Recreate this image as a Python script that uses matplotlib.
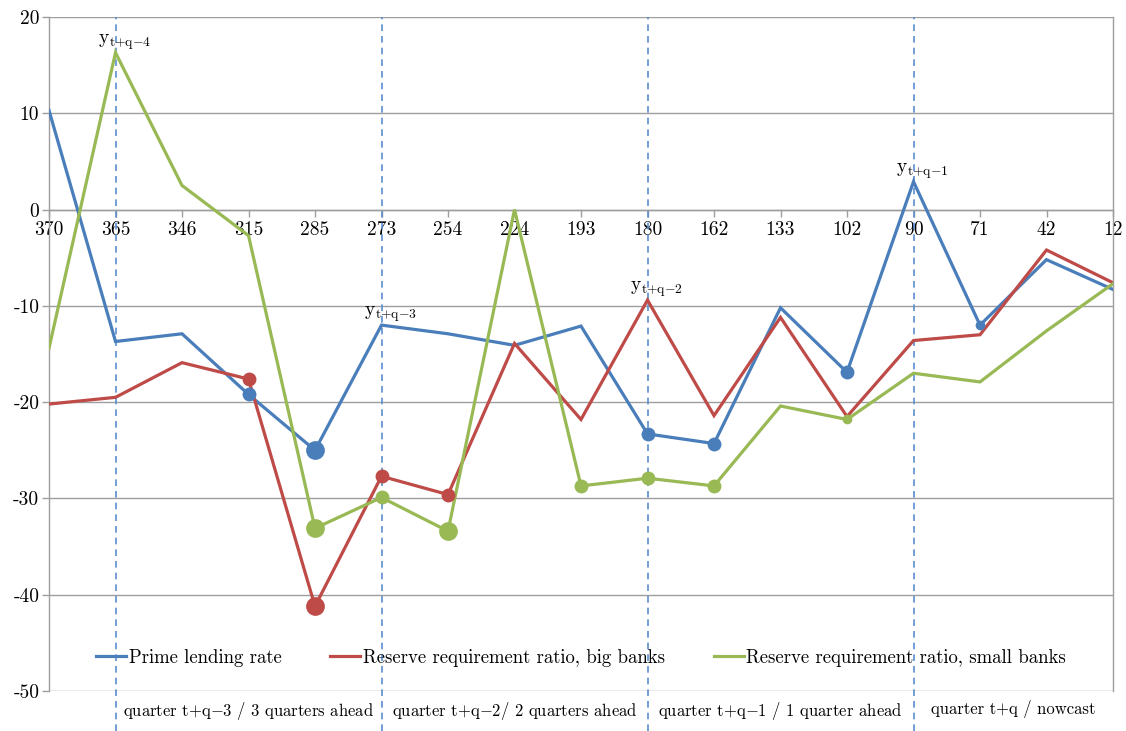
import matplotlib
matplotlib.use("Agg")
import matplotlib.pyplot as plt
from matplotlib.lines import Line2D

categories = ["370", "365", "346", "315", "285", "273", "254", "224", "193",
              "180", "162", "133", "102", "90", "71", "42", "12"]

prime_lending = [10.3, -13.7, -12.9, -19.2, -25.0, -12.0, -12.9, -14.1, -12.1,
                 -23.3, -24.3, -10.2, -16.9, 2.9, -12.0, -5.2, -8.3]
rrr_big = [-20.2, -19.5, -15.9, -17.6, -41.2, -27.7, -29.6, -13.9, -21.8,
           -9.4, -21.4, -11.2, -21.5, -13.6, -13.0, -4.2, -7.6]
rrr_small = [-14.4, 16.3, 2.5, -2.7, -33.1, -29.9, -33.4, 0.0, -28.7,
             -27.9, -28.7, -20.4, -21.8, -17.0, -17.9, -12.6, -7.7]

# highlighted points (0 = none, 1 = small, 2 = medium, 3 = large)
prime_mark = [0, 0, 0, 2, 3, 0, 0, 0, 0, 2, 2, 0, 2, 0, 1, 0, 0]
big_mark = [0, 0, 0, 2, 3, 2, 2, 0, 0, 0, 0, 0, 0, 0, 0, 0, 0]
small_mark = [0, 0, 0, 0, 3, 2, 3, 0, 2, 2, 2, 0, 1, 0, 0, 0, 0]

series_names = ["Prime lending rate", "Reserve requirement ratio, big banks",
                "Reserve requirement ratio, small banks"]
y_ticks = [20, 10, 0, -10, -20, -30, -40, -50]

quarter_lines = ["365", "273", "180", "90"]
quarter_point_labels = [("365", "rrr_small", "4"), ("273", "prime", "3"),
                        ("180", "rrr_big", "2"), ("90", "prime", "1")]
quarter_texts = ["quarter t+q$-$3 / 3 quarters ahead",
                 "quarter t+q$-$2/ 2 quarters ahead",
                 "quarter t+q$-$1 / 1 quarter ahead",
                 "quarter t+q / nowcast"]

plt.rcParams["font.family"] = ["cmr10", "DejaVu Serif"]
plt.rcParams["mathtext.fontset"] = "cm"
plt.rcParams["axes.unicode_minus"] = False

colors = {"prime": "#4A7EBB", "rrr_big": "#BE4B48", "rrr_small": "#98B954"}
size_map = {1: 7.0, 2: 10.0, 3: 13.5}

fig = plt.figure(figsize=(11.26, 7.31), dpi=100)
ax = fig.add_axes([49 / 1126, 40 / 731, (1113 - 49) / 1126, (691 - 17) / 731])

# axis frame first (set_position resets tick properties)
ax.spines["bottom"].set_position(("data", 0))
ax.spines["top"].set_visible(False)
for s in ["bottom", "left", "right"]:
    ax.spines[s].set_color("#9E9E9E")
    ax.spines[s].set_linewidth(1.0)

x = list(range(len(categories)))
data = {"prime": (prime_lending, prime_mark),
        "rrr_big": (rrr_big, big_mark),
        "rrr_small": (rrr_small, small_mark)}

handles = []
for key, name in zip(["prime", "rrr_big", "rrr_small"], series_names):
    vals, marks = data[key]
    ax.plot(x, vals, color=colors[key], lw=2.3, zorder=3, solid_joinstyle="miter")
    for xi, v, m in zip(x, vals, marks):
        if m:
            ax.plot(xi, v, "o", ms=size_map[m], color=colors[key], zorder=4,
                    markeredgewidth=0)
    handles.append(Line2D([], [], color=colors[key], lw=2.3))

ax.set_xlim(0, len(categories) - 1)
ax.set_ylim(-50, 20)

ax.set_yticks(y_ticks)
ax.set_yticklabels([str(t) for t in y_ticks], fontsize=14)
ax.yaxis.grid(True, color="#9E9E9E", lw=1.0)
ax.set_axisbelow(True)

ax.set_xticks(x)
ax.set_xticklabels(categories, fontsize=14)
ax.tick_params(axis="both", color="#9E9E9E", length=5, width=1.0, pad=2)
ax.tick_params(axis="x", pad=3)

# quarter separators
for c in quarter_lines:
    xi = categories.index(c)
    ax.axvline(xi, ymin=-0.06, ymax=1, color="#5B8FD0", lw=1.2,
               ls=(0, (4, 3)), clip_on=False, zorder=2)

# labels above points
for c, key, k in quarter_point_labels:
    xi = categories.index(c)
    v = data[key][0][xi]
    ax.annotate(r"$\mathrm{y}_{\mathrm{t{+}q{-}%s}}$" % k, (xi, v),
                xytext=(6.5, 0.5), textcoords="offset points",
                ha="center", va="bottom", fontsize=14)

# quarter texts below the axis
bounds = [categories.index(c) for c in quarter_lines] + [len(categories) - 1]
for i, t in enumerate(quarter_texts):
    xc = (bounds[i] + bounds[i + 1]) / 2
    ax.text(xc, -0.013, t, transform=ax.get_xaxis_transform(),
            ha="center", va="top", fontsize=12)

ax.legend(handles, series_names, loc="center", bbox_to_anchor=(0.5, 0.049),
          ncol=3, frameon=False, fontsize=13.5, handlelength=1.6,
          handletextpad=0.15, columnspacing=2.6)

fig.savefig("out.png", dpi=100)
